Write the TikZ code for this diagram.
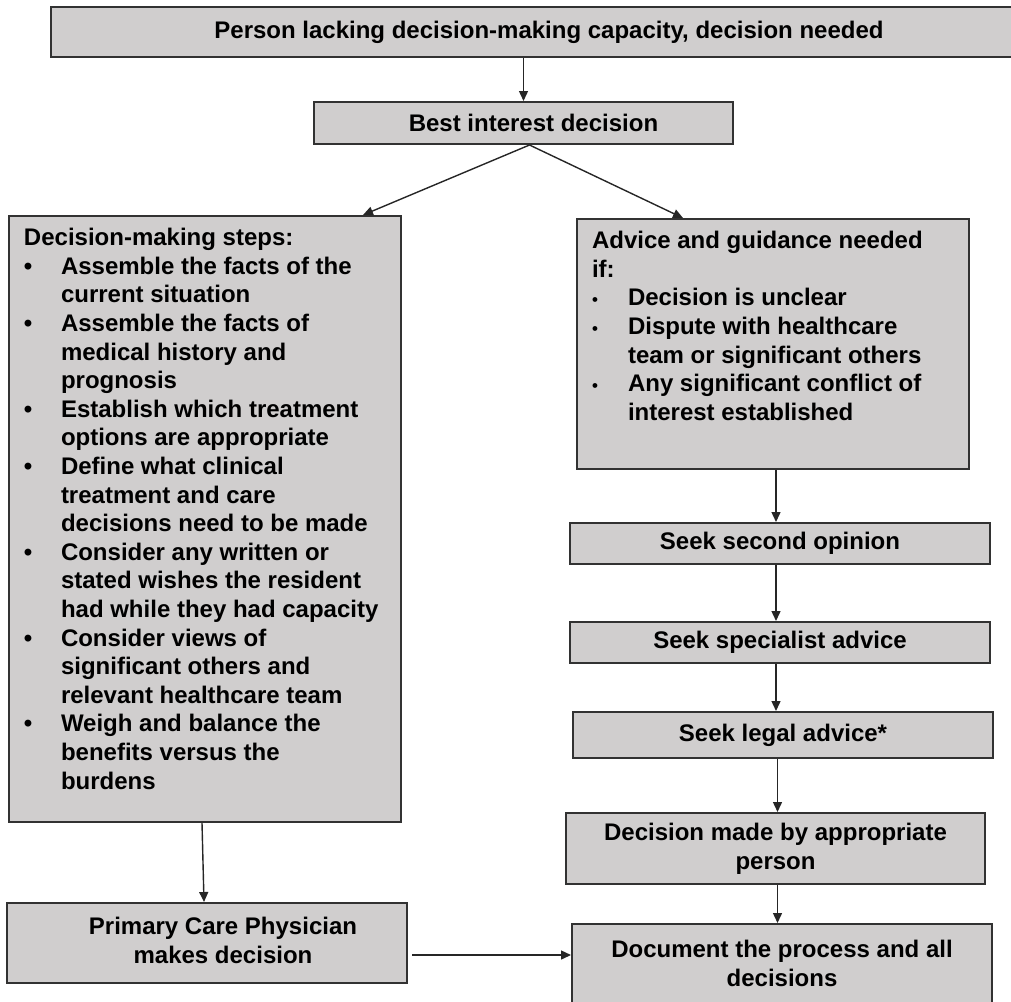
\documentclass[tikz,border=0pt]{standalone}
\usepackage{fontspec}
\setmainfont{Liberation Sans}
\usepackage{enumitem}
\usetikzlibrary{arrows.meta}
\definecolor{boxfill}{RGB}{208,206,206}
\definecolor{boxedge}{RGB}{50,50,50}
\tikzset{
  box/.style={draw=boxedge, fill=boxfill, line width=1pt, font=\fontsize{12}{14.3}\selectfont\bfseries},
  cbox/.style={box, align=center, inner sep=0pt},
  tbox/.style={box, anchor=north west, inner xsep=7.5pt, inner ysep=6.2pt},
  arr/.style={draw=black!85, line width=0.7pt, -{Triangle[width=4.5pt,length=5pt]}}
}
\begin{document}
\begin{tikzpicture}[x=0.5pt,y=-0.5pt]
\useasboundingbox (0,0) rectangle (1011,1001);
% top of the chart
\node[cbox, minimum width=498pt, minimum height=25pt] (top) at (549,32)
  {Person lacking decision-making capacity, decision needed};
\node[cbox, minimum width=209.5pt, minimum height=21pt] (best) at (523.5,123)
  {\hspace*{10pt}Best interest decision};
% left branch
\node[tbox] (steps) at (8,215) {\begin{minipage}[t][290.5pt][t]{181pt}\raggedright
Decision-making steps:
\begin{itemize}[label=\textbullet, leftmargin=18.5pt, labelsep=12.5pt, labelwidth=6pt, align=left, nosep]
\item Assemble the facts of the\\ current situation
\item Assemble the facts of\\ medical history and\\ prognosis
\item Establish which treatment\\ options are appropriate
\item Define what clinical\\ treatment and care\\ decisions need to be made
\item Consider any written or\\ stated wishes the resident\\ had while they had capacity
\item Consider views of\\ significant others and\\ relevant healthcare team
\item Weigh and balance the\\ benefits versus the\\ burdens
\end{itemize}
\end{minipage}};
\node[cbox, minimum width=200pt, minimum height=40pt] (pcp) at (207,943)
  {\hspace*{16pt}\begin{tabular}{@{}c@{}}Primary Care Physician\\ makes decision\end{tabular}};
% right branch
\node[tbox] (advice) at (576,218) {\begin{minipage}[t][112.6pt][t]{181pt}\raggedright
Advice and guidance needed\\ if:
\begin{itemize}[label={\scalebox{0.7}{\textbullet}}, leftmargin=18pt, labelsep=14pt, labelwidth=4pt, align=left, nosep]
\item Decision is unclear
\item Dispute with healthcare\\ team or significant others
\item Any significant conflict of\\ interest established
\end{itemize}
\end{minipage}};
\node[cbox, minimum width=210pt, minimum height=20.5pt] (second) at (780,543.5) {Seek second opinion};
\node[cbox, minimum width=210pt, minimum height=20.5pt] (specialist) at (780,642.5) {Seek specialist advice};
\node[cbox, minimum width=210pt, minimum height=23pt] (legal) at (783,735) {Seek legal advice*};
\node[cbox, minimum width=209.5pt, minimum height=35.5pt] (decision) at (775.5,848.5)
  {Decision made by appropriate\\ person};
\node[cbox, minimum width=210pt, minimum height=39.5pt] (doc) at (782,963.5)
  {Document the process and all\\ decisions};
% arrows
\draw[arr] (best.north |- top.south) -- (best.north);
\draw[arr] ([xshift=3pt]best.south) -- ([xshift=-19.5pt]steps.north east);
\draw[arr] ([xshift=3pt]best.south) -- ([xshift=53.5pt]advice.north west);
\draw[arr] ([xshift=-1.5pt]steps.south) -- ([xshift=-1.5pt]pcp.north);
\draw[arr] ([xshift=-2pt]second.north |- advice.south) -- ([xshift=-2pt]second.north);
\draw[arr] ([xshift=-2pt]second.south) -- ([xshift=-2pt]specialist.north);
\draw[arr] ([xshift=-2pt]specialist.south) -- ([xshift=-2pt]specialist.south |- legal.north);
\draw[arr] ([xshift=1pt]decision.north |- legal.south) -- ([xshift=1pt]decision.north);
\draw[arr] ([xshift=1pt]decision.south) -- ([xshift=1pt]decision.south |- doc.north);
\draw[arr, shorten <=2pt] ([yshift=-6pt]pcp.east) -- ([yshift=-6pt]pcp.east -| doc.west);
\end{tikzpicture}
\end{document}
